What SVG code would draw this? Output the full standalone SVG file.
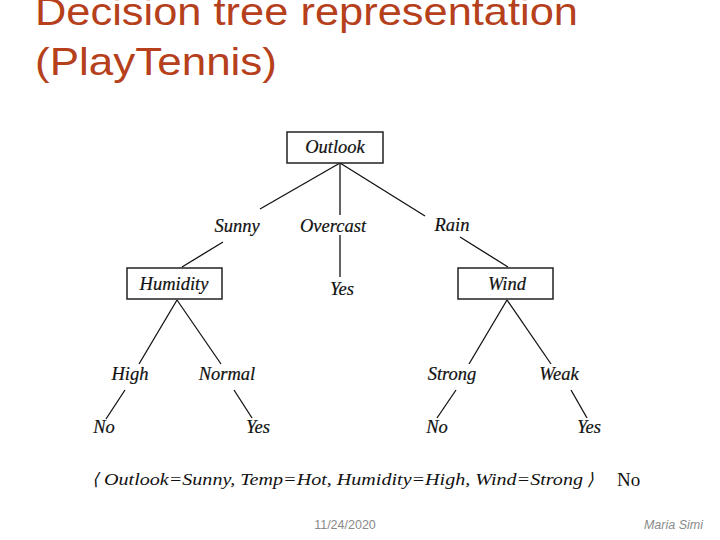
<svg xmlns="http://www.w3.org/2000/svg" width="720" height="540" viewBox="0 0 720 540">
<style>
.title{font-family:"Liberation Sans",Arial,sans-serif;font-size:39px;fill:#B5401B}
.box{fill:#fff;stroke:#222;stroke-width:1.5}
.lbl{font-family:"Liberation Serif","Times New Roman",serif;font-style:italic;font-size:18.5px;fill:#111;text-anchor:middle;stroke:#111;stroke-width:0.2}
.edge{stroke:#111;stroke-width:1.3;fill:none}
.ex{font-family:"Liberation Serif","Times New Roman",serif;font-style:italic;font-size:17px;fill:#111}
.foot{font-family:"Liberation Sans",Arial,sans-serif;font-size:12.5px;fill:#8a8a8a}
</style>
<rect width="720" height="540" fill="#fff"/>
<text class="title" x="35" y="25" textLength="543" lengthAdjust="spacingAndGlyphs">Decision tree representation</text>
<text class="title" x="35" y="75" textLength="242" lengthAdjust="spacingAndGlyphs">(PlayTennis)</text>
<g id="connectors">
<line class="edge" x1="340" y1="163" x2="260" y2="209"/>
<line class="edge" x1="340" y1="163" x2="340" y2="215"/>
<line class="edge" x1="340" y1="163" x2="425" y2="216"/>
<line class="edge" x1="223" y1="242" x2="182" y2="267"/>
<line class="edge" x1="340" y1="235" x2="340" y2="277"/>
<line class="edge" x1="460" y1="237" x2="508" y2="267"/>
<line class="edge" x1="177" y1="300" x2="139" y2="364"/>
<line class="edge" x1="177" y1="300" x2="221" y2="364"/>
<line class="edge" x1="125" y1="390" x2="106" y2="419"/>
<line class="edge" x1="234" y1="390" x2="252" y2="418"/>
<line class="edge" x1="507" y1="300" x2="469" y2="364"/>
<line class="edge" x1="507" y1="300" x2="551" y2="364"/>
<line class="edge" x1="456" y1="390" x2="437" y2="418"/>
<line class="edge" x1="571" y1="390" x2="587" y2="418"/>
</g>
<g id="outlook"><rect class="box" x="287" y="132" width="96" height="31"/><text class="lbl" x="335" y="153">Outlook</text></g>
<g id="humidity"><rect class="box" x="127" y="268" width="95" height="31"/><text class="lbl" x="174" y="290">Humidity</text></g>
<g id="wind"><rect class="box" x="458" y="268" width="95" height="31"/><text class="lbl" x="507" y="290">Wind</text></g>
<g id="labels">
<text class="lbl" x="237" y="232">Sunny</text>
<text class="lbl" x="333" y="232">Overcast</text>
<text class="lbl" x="452" y="231">Rain</text>
<text class="lbl" x="130" y="380">High</text>
<text class="lbl" x="227" y="380">Normal</text>
<text class="lbl" x="452" y="380">Strong</text>
<text class="lbl" x="559" y="380">Weak</text>
</g>
<g id="leaf-yes-overcast"><text class="lbl" x="342" y="295">Yes</text></g>
<g id="leaf-no-high"><text class="lbl" x="104" y="433">No</text></g>
<g id="leaf-yes-normal"><text class="lbl" x="258" y="433">Yes</text></g>
<g id="leaf-no-strong"><text class="lbl" x="437" y="433">No</text></g>
<g id="leaf-yes-weak"><text class="lbl" x="589" y="433">Yes</text></g>
<text class="ex" x="92" y="485">⟨</text>
<text class="ex" x="104" y="485" textLength="479" lengthAdjust="spacingAndGlyphs">Outlook=Sunny, Temp=Hot, Humidity=High, Wind=Strong</text>
<text class="ex" x="587" y="485">⟩</text>
<text x="617" y="486" style="font-family:'Liberation Serif','Times New Roman',serif;font-size:19px;fill:#111">No</text>
<text class="foot" x="345" y="529" text-anchor="middle">11/24/2020</text>
<text class="foot" x="703" y="529" text-anchor="end" font-style="italic">Maria Simi</text>
</svg>
